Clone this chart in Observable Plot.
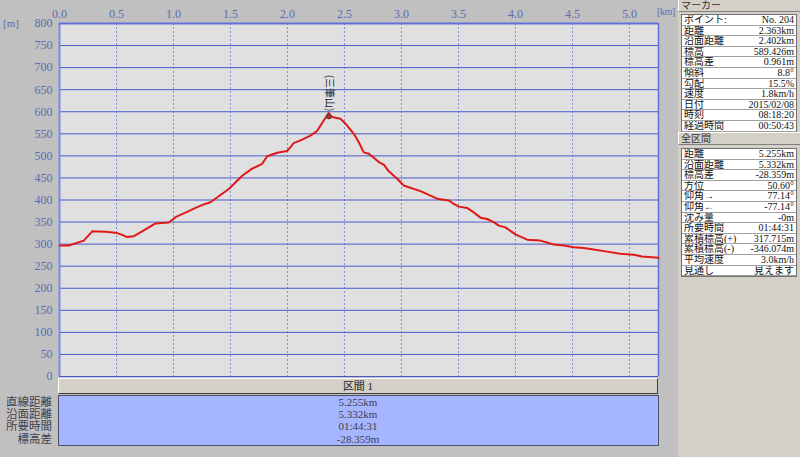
<!DOCTYPE html>
<html><head><meta charset="utf-8">
<script src="https://cdn.jsdelivr.net/npm/d3@7"></script>
<script src="https://cdn.jsdelivr.net/npm/@observablehq/plot@0.6"></script>
<style>
body{margin:0;background:#c0c0c0;}
#wrap{position:relative;width:800px;height:457px;overflow:hidden;background:#c0c0c0;font-family:"Liberation Serif","Noto Sans CJK JP",serif;}
#chart{position:absolute;left:0;top:0;}
.abs{position:absolute;white-space:nowrap;}
.unit{color:#5b6bb5;font-size:11px;z-index:5;}
#side{position:absolute;left:678px;top:0;width:122px;height:457px;background:#d4d0c8;}
.hdr{position:absolute;left:0;width:120px;height:11px;border-top:1px solid #fff;border-left:1px solid #fff;border-bottom:1px solid #808080;border-right:1px solid #808080;font-size:10px;line-height:11px;color:#333;padding-left:2px;box-sizing:content-box;overflow:hidden;}
.tbl{position:absolute;left:3px;width:116px;background:#fff;border:1px solid #707070;box-sizing:border-box;}
.row{position:relative;height:10.6px;border-bottom:1px solid #a0a0a0;box-sizing:border-box;font-size:10px;line-height:9.6px;color:#111;overflow:hidden;}
.row .l{position:absolute;left:2px;top:0;}
.row .v{position:absolute;right:2px;top:0;}
#bhdr{position:absolute;left:58px;top:378px;width:600px;height:16px;background:#d4d0c8;border-top:1px solid #fff;border-left:1px solid #fff;border-bottom:1px solid #404040;border-right:1px solid #404040;box-sizing:border-box;text-align:center;font-size:11px;line-height:15px;color:#222;}
#bbody{position:absolute;left:58px;top:395px;width:601px;height:51px;background:#a5b5ff;border:1px solid #505068;box-sizing:border-box;}
.bval{position:absolute;left:58px;width:600px;text-align:center;font-size:11px;line-height:12px;color:#404050;}
.blab{position:absolute;right:748px;font-size:11.5px;line-height:12px;color:#404050;text-align:right;}
</style></head>
<body>
<div id="wrap">
  <div id="chart"></div>
  <div id="bhdr"></div>
  <div id="bbody"></div>
  <div id="side"></div>
  <div class="abs unit" style="left:3px;top:17px;">[m]</div>
  <div class="abs unit" style="left:657px;top:6px;font-size:10px;letter-spacing:-0.4px;">[km]</div>
</div>
<script>
// ---- data ----
const distKm = [0.000,0.082,0.213,0.287,0.404,0.506,0.550,0.594,0.652,0.725,0.842,0.959,1.018,1.134,1.193,1.266,1.325,1.485,1.603,1.690,1.778,1.822,1.910,1.997,2.055,2.129,2.202,2.261,2.318,2.362,2.392,2.465,2.509,2.582,2.626,2.669,2.713,2.757,2.801,2.845,2.889,2.962,3.020,3.064,3.167,3.254,3.313,3.415,3.459,3.503,3.576,3.634,3.693,3.752,3.810,3.854,3.912,4.000,4.103,4.219,4.336,4.424,4.511,4.599,4.687,4.804,4.921,5.038,5.111,5.255];
const elevM  = [297,297,308,329,328,325,321,316,318,329,347,349,361,375,382,390,395,425,455,471,482,499,507,511,529,537,546,557,580,597,588,584,573,550,531,508,505,496,486,480,465,448,433,429,420,410,403,399,391,385,382,372,360,357,350,342,338,322,310,308,299,297,293,291,288,283,278,276,272,269];
const xTicks = [0,0.5,1.0,1.5,2.0,2.5,3.0,3.5,4.0,4.5,5.0];
const yTicks = [0,50,100,150,200,250,300,350,400,450,500,550,600,650,700,750,800];
const xMax = 5.255;
const peakName = "(三筆山)";
const peakKm = 2.363, peakElev = 589.426;

const markerTitle = "マーカー";
const markerLabels = ["ポイント:","距離","沿面距離","標高","標高差","傾斜","勾配","速度","日付","時刻","経過時間"];
const markerValues = ["No. 204","2.363km","2.402km","589.426m","0.961m","8.8°","15.5%","1.8km/h","2015/02/08","08:18:20","00:50:43"];
const totalTitle = "全区間";
const totalLabels = ["距離","沿面距離","標高差","方位","仰角→","仰角←","沈み量","所要時間","累積標高(+)","累積標高(-)","平均速度","見通し"];
const totalValues = ["5.255km","5.332km","-28.359m","50.60°","77.14°","-77.14°","-0m","01:44:31","317.715m","-346.074m","3.0km/h","見えます"];
const sectionTitle = "区間 1";
const sectionLabels = ["直線距離","沿面距離","所要時間","標高差"];
const sectionValues = ["5.255km","5.332km","01:44:31","-28.359m"];

// ---- chart ----
const pts = distKm.map((d,i)=>({d, e: elevM[i]}));
const chart = Plot.plot({
  width: 800, height: 457,
  marginLeft: 59, marginRight: 142, marginTop: 23, marginBottom: 81,
  style: {background: "transparent", fontFamily: "'Liberation Serif', serif", fontSize: "12px", color: "#5b6bb5"},
  x: {domain: [0, xMax]},
  y: {domain: [0, 800]},
  marks: [
    Plot.frame({fill: "#e0e0e0", stroke: null}),
    Plot.gridX(xTicks, {stroke: "#7f8fd8", strokeOpacity: 1, strokeDasharray: "2,2"}),
    Plot.gridY(yTicks, {stroke: "#4a5bc8", strokeOpacity: 1}),
    Plot.axisY(yTicks, {tickSize: 0, tickPadding: 7, fill: "#5b6bb5", label: null}),
    Plot.axisX(xTicks, {anchor: "top", tickSize: 0, tickPadding: 6, fill: "#5b6bb5", tickFormat: d => d.toFixed(1), label: null}),
    Plot.ruleX([0], {stroke: "#7a8ae6", strokeWidth: 2}),
    Plot.ruleY([800], {stroke: "#6070d8", strokeWidth: 2}),
    Plot.ruleX([xMax], {stroke: "#6070d8", strokeWidth: 1.5}),
    Plot.line(pts, {x: "d", y: "e", stroke: "#e01818", strokeWidth: 2}),
    Plot.dot([{d: peakKm, e: peakElev}], {x: "d", y: "e", r: 2.5, fill: "#b03030", stroke: "#604020", strokeWidth: 1}),
    Plot.text([{d: peakKm, e: peakElev}], {x: "d", y: "e", text: () => peakName, dy: -5, rotate: 90, textAnchor: "end", fontSize: 10, fill: "#222", fontFamily: "'Noto Sans CJK JP', sans-serif"})
  ]
});
document.getElementById("chart").appendChild(chart);

// ---- bottom section ----
document.getElementById("bhdr").textContent = sectionTitle;
const wrap = document.getElementById("wrap");
const rowsY = [396, 408, 420, 433];
sectionLabels.forEach((t,i)=>{
  const a = document.createElement("div"); a.className="blab"; a.style.top = rowsY[i]+"px"; a.textContent = t; wrap.appendChild(a);
  const b = document.createElement("div"); b.className="bval"; b.style.top = rowsY[i]+"px"; b.textContent = sectionValues[i]; wrap.appendChild(b);
});

// ---- side panel ----
const side = document.getElementById("side");
function header(txt, top){ const h=document.createElement("div"); h.className="hdr"; h.style.top=top+"px"; h.textContent=txt; side.appendChild(h); }
function table(labels, values, top){
  const t=document.createElement("div"); t.className="tbl"; t.style.top=top+"px";
  labels.forEach((l,i)=>{ const r=document.createElement("div"); r.className="row";
    const a=document.createElement("span"); a.className="l"; a.textContent=l;
    const b=document.createElement("span"); b.className="v"; b.textContent=values[i];
    r.appendChild(a); r.appendChild(b); t.appendChild(r); });
  side.appendChild(t);
}
header(markerTitle, -1);
table(markerLabels, markerValues, 14);
header(totalTitle, 132);
table(totalLabels, totalValues, 148);
</script>
</body></html>
